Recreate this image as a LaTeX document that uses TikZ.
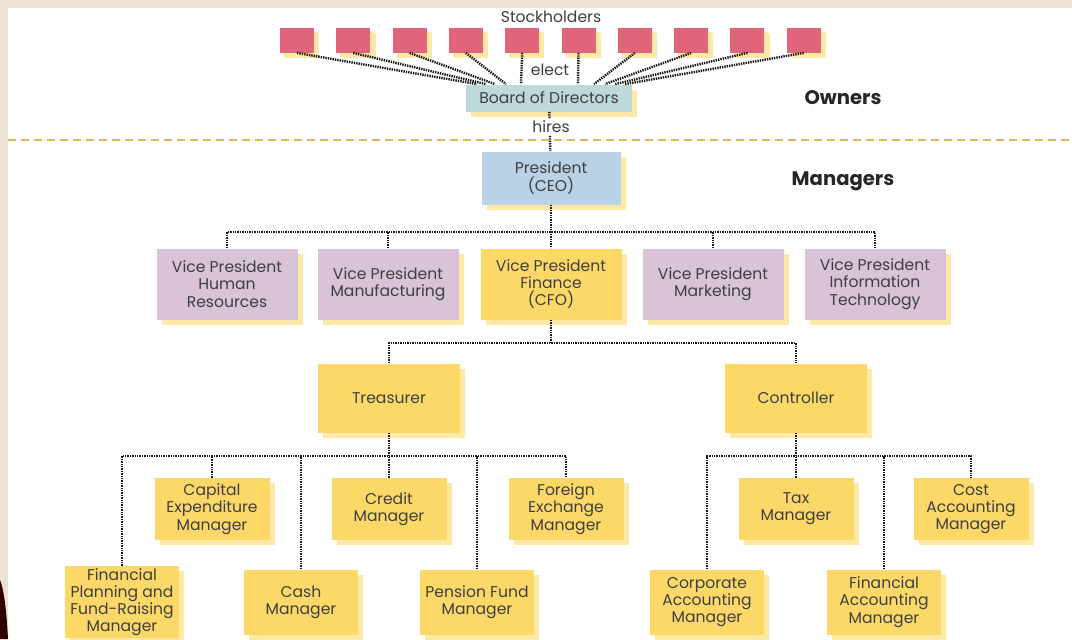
\documentclass[tikz,border=0pt]{standalone}
\usepackage{fontspec}
\setmainfont{Poppins}
\usetikzlibrary{shadows}
\definecolor{paper}{HTML}{EDE3D3}
\definecolor{stock}{HTML}{E0647A}
\definecolor{boardc}{HTML}{BFD8DB}
\definecolor{ceoc}{HTML}{BAD2E6}
\definecolor{vpc}{HTML}{D8C3D8}
\definecolor{gold}{HTML}{FCD869}
\definecolor{shade}{HTML}{FDE8A6}
\definecolor{ink}{HTML}{3F3F3F}
\definecolor{rule}{HTML}{E6B25A}
\tikzset{
  box/.style={fill=gold,text=ink,align=center,inner sep=1pt,
    drop shadow={shadow xshift=2.6pt,shadow yshift=-2.6pt,fill=shade,opacity=1}},
  vpbox/.style={box,minimum width=70.5pt,minimum height=35.5pt},
  midbox/.style={box,minimum width=71pt,minimum height=34.5pt},
  mgrbox/.style={box,minimum width=57.5pt,minimum height=31pt},
  lowbox/.style={box,minimum width=57pt,minimum height=32.5pt},
  tie/.style={draw=black!90,line width=1.2pt,dash pattern=on 0.7pt off 0.5pt},
  side/.style={font=\fontsize{9.8}{11}\selectfont\bfseries,text=black!85}
}
\begin{document}
\begin{tikzpicture}[x=0.5pt,y=-0.5pt,font=\fontsize{7.8}{8.6}\selectfont]
\useasboundingbox (0,0) rectangle (1072,639);
% page background
\fill[paper] (0,0) rectangle (1072,639);
\fill[white] (8,8) rectangle (1072,639);
\fill[black!70!red!60!black] (0,580) .. controls (5,592) and (7,620) .. (8,639) -- (0,639) -- cycle;
% owners
\draw[rule,line width=0.8pt,dash pattern=on 4pt off 2.5pt] (8,140) -- (1072,140);
\node[text=ink] (stockholders) at (551,17) {Stockholders};
\foreach \i in {1,...,10}
  \node[box,fill=stock,minimum width=17pt,minimum height=12.5pt,
    drop shadow={shadow xshift=2pt,shadow yshift=-2pt,fill=shade,opacity=1}]
    (sh\i) at ({297+56.3*(\i-1)},40) {};
\node[box,fill=boardc,minimum width=83pt,minimum height=13.5pt] (board) at (549,98) {Board of Directors};
\foreach \i/\o in {1/-36,2/-31.5,3/-27,4/-21.5,5/-14,6/14.5,7/22.5,8/28,9/33,10/38}
  \draw[tie] (sh\i.south) -- ([xshift=\o pt]board.north);
\node[text=ink] (elect) at (550,70) {elect};
\node[side] (owners) at (843,98) {Owners};
% managers
\node[box,fill=ceoc,minimum width=69.5pt,minimum height=26.5pt] (ceo) at (551,178) {President\\(CEO)};
\draw[tie] (board) -- (ceo);
\node[fill=white,text=ink,inner sep=1pt] (hires) at (551,127) {hires};
\node[side] (managers) at (843,181) {Managers};
\node[vpbox,fill=vpc] (vphr) at (227,284) {Vice President\\Human\\Resources};
\node[vpbox,fill=vpc] (vpmf) at (388,284) {Vice President\\Manufacturing};
\node[vpbox] (vpfin) at (551,284) {Vice President\\Finance\\(CFO)};
\node[vpbox,fill=vpc] (vpmk) at (713,284) {Vice President\\Marketing};
\node[vpbox,fill=vpc] (vpit) at (875,284) {Vice President\\Information\\Technology};
\coordinate (vpbus) at (551,232);
\draw[tie] (vphr.north) |- (vpbus) -| (vpit.north);
\draw[tie] (ceo) -- (vpfin);
\foreach \n in {vpmf,vpmk}
  \draw[tie] (\n.north) -- (\n.north |- vpbus);
% finance
\node[midbox] (treas) at (389,398) {Treasurer};
\node[midbox] (ctrl) at (796,398) {Controller};
\coordinate (fbus) at (551,343);
\draw[tie] (treas.north) |- (fbus) -| (ctrl.north);
\draw[tie] (vpfin) -- (fbus);
% treasurer side
\node[mgrbox] (capex) at (212,509) {Capital\\Expenditure\\Manager};
\node[mgrbox] (credit) at (389,509) {Credit\\Manager};
\node[mgrbox] (fx) at (566,509) {Foreign\\Exchange\\Manager};
\node[lowbox] (finplan) at (122,602) {Financial\\Planning and\\Fund-Raising\\Manager};
\node[lowbox] (cash) at (301,602) {Cash\\Manager};
\node[lowbox] (pension) at (477,602) {Pension Fund\\Manager};
\coordinate (tbus) at (389,456);
\draw[tie] (finplan.north) |- (tbus) -| (fx.north);
\draw[tie] (treas) -- (credit);
\foreach \n in {capex,cash,pension}
  \draw[tie] (\n.north) -- (\n.north |- tbus);
% controller side
\node[mgrbox] (tax) at (796,509) {Tax\\Manager};
\node[mgrbox] (cost) at (971,509) {Cost\\Accounting\\Manager};
\node[lowbox] (corp) at (707,602) {Corporate\\Accounting\\Manager};
\node[lowbox] (finacc) at (884,602) {Financial\\Accounting\\Manager};
\coordinate (cbus) at (796,456);
\draw[tie] (corp.north) |- (cbus) -| (cost.north);
\draw[tie] (ctrl) -- (tax);
\draw[tie] (finacc.north) -- (finacc.north |- cbus);
\end{tikzpicture}
\end{document}
